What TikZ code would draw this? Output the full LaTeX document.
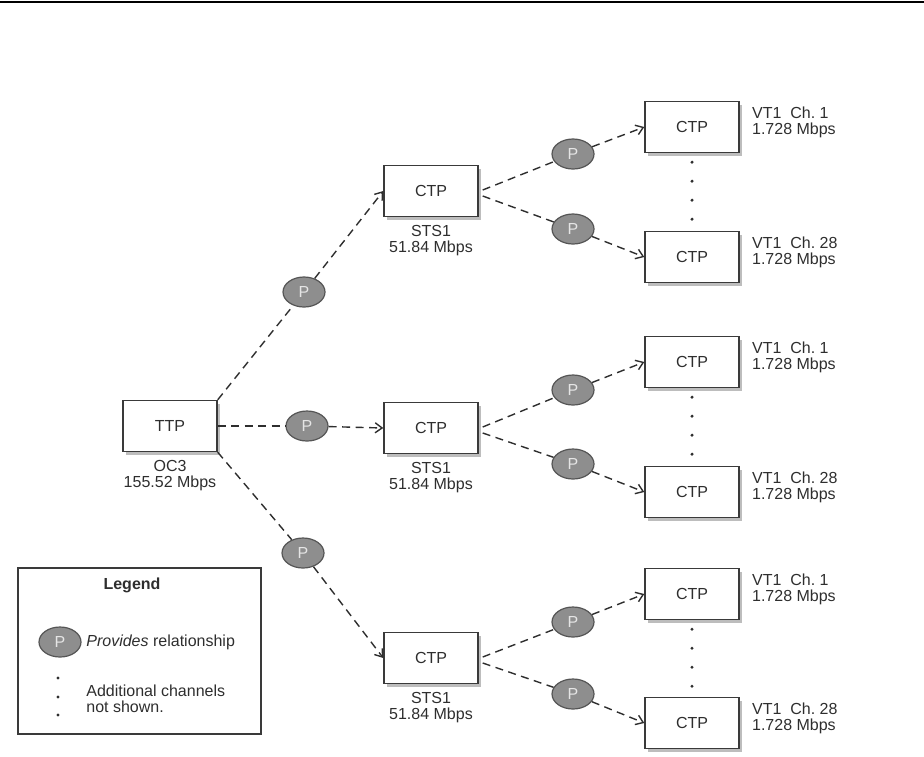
\documentclass[tikz,border=0pt]{standalone}
\usepackage{fontspec}
\setmainfont{Liberation Sans}
\definecolor{boxline}{HTML}{3A3A3A}
\definecolor{inkgray}{HTML}{2E2E2E}
\definecolor{pfill}{HTML}{8E8E8E}
\definecolor{pline}{HTML}{555555}
\definecolor{shade}{HTML}{BDBDBD}
\usetikzlibrary{arrows.meta,shapes.geometric,shadows}

\begin{document}
\begin{tikzpicture}[x=0.5pt,y=-0.5pt,>={Straight Barb[length=3.5pt,width=5pt]},
  every node/.style={font=\fontsize{8}{7.8}\selectfont,text=inkgray},
  tp/.style={draw=boxline,line width=0.7pt,fill=white,rectangle,minimum width=47pt,minimum height=25.5pt,inner sep=0pt,
    drop shadow={shadow xshift=1.5pt,shadow yshift=-1.5pt,fill=shade,opacity=1}},
  prov/.style={ellipse,draw=pline,fill=pfill,line width=0.6pt,text=white!90!black,minimum width=21pt,minimum height=15pt,inner sep=0pt},
  link/.style={draw=inkgray,line width=0.7pt,dash pattern=on 4pt off 2.75pt},
  rate/.style={align=center,inner sep=0pt,anchor=north},
  chan/.style={align=left,inner sep=0pt,anchor=west},
  gapdot/.style={circle,fill=inkgray,inner sep=0pt,minimum size=1.7pt}]
\useasboundingbox (0,0) rectangle (924,756);
\draw[line width=1pt,black] (0,2) -- (924,2);

% termination and connection points
\node[tp] (ttp) at (170,426) {TTP};
\node[tp] (sts1) at (431,191) {CTP};
\node[tp] (sts2) at (431,428) {CTP};
\node[tp] (sts3) at (431,658) {CTP};
\node[tp] (vta1) at (692,127) {CTP};
\node[tp] (vta28) at (692,257) {CTP};
\node[tp] (vtb1) at (692,362) {CTP};
\node[tp] (vtb28) at (692,492) {CTP};
\node[tp] (vtc1) at (692,594) {CTP};
\node[tp] (vtc28) at (692,723) {CTP};

\node[rate] (ttplbl) at ([yshift=-4pt]ttp.south) {OC3\\155.52 Mbps};
\node[rate] (sts1lbl) at ([yshift=-4pt]sts1.south) {STS1\\51.84 Mbps};
\node[rate] (sts2lbl) at ([yshift=-4pt]sts2.south) {STS1\\51.84 Mbps};
\node[rate] (sts3lbl) at ([yshift=-4pt]sts3.south) {STS1\\51.84 Mbps};
\node[chan] (vta1lbl) at ([xshift=6pt,yshift=2.25pt]vta1.east) {VT1\ \ Ch.~1\\1.728 Mbps};
\node[chan] (vta28lbl) at ([xshift=6pt,yshift=2.25pt]vta28.east) {VT1\ \ Ch.~28\\1.728 Mbps};
\node[chan] (vtb1lbl) at ([xshift=6pt,yshift=2.25pt]vtb1.east) {VT1\ \ Ch.~1\\1.728 Mbps};
\node[chan] (vtb28lbl) at ([xshift=6pt,yshift=2.25pt]vtb28.east) {VT1\ \ Ch.~28\\1.728 Mbps};
\node[chan] (vtc1lbl) at ([xshift=6pt,yshift=2.25pt]vtc1.east) {VT1\ \ Ch.~1\\1.728 Mbps};
\node[chan] (vtc28lbl) at ([xshift=6pt,yshift=2.25pt]vtc28.east) {VT1\ \ Ch.~28\\1.728 Mbps};

% provides relationships
\node[prov] (pa) at (304,292) {P};
\node[prov] (pb) at (307,426) {P};
\node[prov] (pc) at (303,553) {P};
\node[prov] (pa1) at (573,154) {P};
\node[prov] (pa28) at (573,229) {P};
\node[prov] (pb1) at (573,390) {P};
\node[prov] (pb28) at (573,464) {P};
\node[prov] (pc1) at (573,622) {P};
\node[prov] (pc28) at (573,694) {P};

\draw[link] (ttp.north east) -- (pa);
\draw[link,->] (pa) -- (sts1.west);
\draw[link] (ttp.east) -- (pb);
\draw[link,->] (pb) -- (sts2.west);
\draw[link] (ttp.south east) -- (pc);
\draw[link,->] (pc) -- (sts3.west);

\foreach \g/\s in {a/sts1,b/sts2,c/sts3}{
  \draw[link] ([xshift=2pt,yshift=0.5pt]\s.east) -- (p\g1);
  \draw[link,->] (p\g1) -- (vt\g1.west);
  \draw[link] ([xshift=2pt,yshift=-2.5pt]\s.east) -- (p\g28);
  \draw[link,->] (p\g28) -- (vt\g28.west);
  \foreach \k in {1,...,4}
    \node[gapdot] at ([yshift=5pt-9.5pt*\k]vt\g1.south) {};
}

% legend
\node[draw=boxline,line width=0.7pt,minimum width=121.5pt,minimum height=83pt,inner sep=0pt] (legend) at (139.5,651) {};
\node[font=\bfseries\fontsize{8}{7.8}\selectfont] (legtitle) at (132,585) {Legend};
\node[prov] (pkey) at (60,642) {P};
\node[chan] (pkeylbl) at (86,642) {\textit{Provides} relationship};
\node[gapdot] (dkey1) at (58,678) {};
\node[gapdot] (dkey2) at (58,697) {};
\node[gapdot] (dkey3) at (58,715) {};
\node[chan] (dkeylbl) at (86,699) {Additional channels\\not shown.};
\end{tikzpicture}
\end{document}
